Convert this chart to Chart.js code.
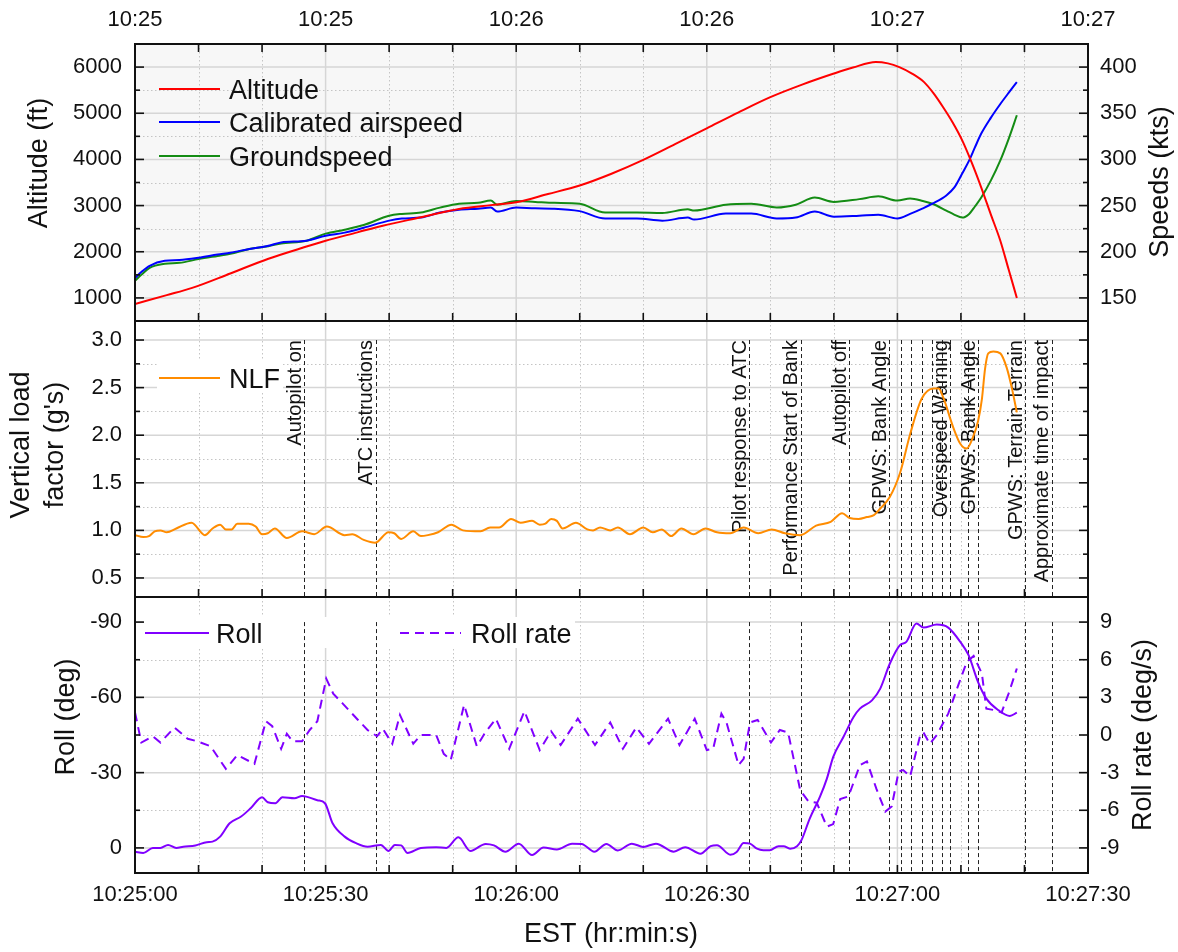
<!DOCTYPE html>
<html>
<head>
<meta charset="utf-8">
<script src="https://cdn.jsdelivr.net/npm/chart.js@4.4.1/dist/chart.umd.min.js"></script>
<style>
  html, body { margin: 0; padding: 0; background: #fff; }
  #wrap { position: relative; width: 1178px; height: 952px; }
  canvas { position: absolute; left: 0; }
</style>
</head>
<body>
<div id="wrap">
  <canvas id="c1" width="1178" height="321" style="top:0px"></canvas>
  <canvas id="c2" width="1178" height="276" style="top:321px"></canvas>
  <canvas id="c3" width="1178" height="355" style="top:597px"></canvas>
</div>
<script>
// time axis = seconds after 10:25:00
const xTicks = [0, 30, 60, 90, 120, 150];
const xMinorTicks = [10, 20, 40, 50, 70, 80, 100, 110, 130, 140];

// top panel: altitude (ft) and speeds (kts)
const altTime = [0, 5, 9, 15, 21, 26, 30, 35, 39, 45, 51, 56, 60, 65, 70, 75, 80, 85, 90, 95,
  100, 105, 110, 113, 116.6, 118.5, 120.3, 122.3, 124.2, 125.7, 127.2, 128.7, 130.2, 131.7, 133.2, 134.7, 136.2, 137.5, 138.8];
const altitudeFt = [870, 1060, 1217, 1530, 1848, 2070, 2239, 2420, 2565, 2746, 2928, 3010, 3072, 3250, 3435, 3690, 3990, 4330, 4674, 5020,
  5348, 5620, 5860, 5990, 6109, 6080, 6000, 5860, 5674, 5430, 5130, 4800, 4413, 3930, 3391, 2810, 2239, 1620, 1000];
const speedTime = [0, 1, 2.3, 4.7, 7, 10, 13, 15, 18, 21, 23, 27, 30, 33, 36, 40, 42, 45, 48, 51,
  54, 56, 57, 60, 63, 66, 70, 74, 79, 83, 87, 88, 93, 97, 101, 104, 107, 110, 114, 117,
  120, 122, 124, 125.5, 127.7, 129, 130.2, 131.3, 132.2, 133.2, 134.7, 136.2, 137.5, 138.8];
const casKts = [171.7, 178, 184.8, 190.2, 191, 193.5, 197, 199, 203, 206.5, 210, 212, 217.4, 220.7, 226, 233.7, 236, 237, 242.4, 245.6,
  246.7, 247.8, 243.5, 247.8, 247, 246.7, 244, 236, 236, 233.7, 237, 234.8, 241.3, 241.3, 236, 237, 243.5, 238, 239, 240,
  236, 241, 247, 252, 261, 270, 284.8, 299, 313, 328, 345, 360, 372, 383.7];
const gsKts = [168.5, 175, 182.6, 187, 188, 192, 195.5, 197.8, 203, 206, 209, 212, 219.6, 223.9, 229, 239, 241, 242.4, 247.8, 252,
  253, 255.4, 251, 255, 254, 253, 252, 242.4, 242.4, 242, 246, 244.6, 251, 252, 248, 251, 258.7, 254, 257, 260,
  255.4, 257.6, 255, 252, 244.6, 240, 237, 241, 249, 258.7, 277, 298.9, 322, 347.8];
const altTicks = [1000, 2000, 3000, 4000, 5000, 6000];
const altMinor = [1500, 2500, 3500, 4500, 5500];
const speedTicks = [150, 200, 250, 300, 350, 400];
const speedMinor = [175, 225, 275, 325, 375];

// middle panel: normal load factor
const nlfTime = [0, 1.3, 2.2, 3.1, 4, 5, 6.5, 8.9, 11, 12.2, 13.4, 14.3, 15.2, 16.1, 17.9, 19, 20, 20.9, 22, 23.9,
  26.3, 28.2, 30.2, 33, 34.2, 36, 37.8, 39.9, 40.8, 41.9, 43.8, 45, 46.1, 47.7, 49.8, 51.6, 54.4, 55.9, 57.3, 59.2,
  60.7, 62.5, 63.7, 64.6, 65.5, 66.4, 67.3, 69.4, 71.2, 72.1, 73.2, 74.8, 76, 77.9, 80, 81.5, 82.9, 84.4, 86, 87.9,
  89.8, 91.6, 93.7, 95.8, 98.1, 100.2, 102.3, 104.7, 107.2, 109.5, 111.3, 112.5, 113.9, 115.2, 116.3, 117.3, 118.8, 120.4, 122, 123.8,
  125.7, 126.5, 127.2, 128.8, 129.9, 130.9, 131.9, 132.7, 133.3, 133.8, 134.3, 135.1, 136.2, 137.2, 138, 138.8];
const nlf = [0.95, 0.93, 0.94, 0.99, 1.0, 0.98, 1.02, 1.08, 0.95, 1.02, 1.06, 1.01, 1.01, 1.07, 1.07, 1.04, 0.96, 0.97, 1.02, 0.92,
  0.99, 0.96, 1.04, 0.95, 0.96, 0.9, 0.87, 0.98, 0.97, 0.91, 0.99, 0.94, 0.95, 0.98, 1.06, 1.0, 0.99, 1.03, 1.03, 1.12,
  1.08, 1.1, 1.06, 1.07, 1.12, 1.1, 1.02, 1.08, 1.01, 1.0, 1.03, 1.0, 1.03, 0.96, 1.03, 0.98, 1.01, 0.94, 1.02, 0.96,
  1.02, 0.98, 0.97, 1.03, 0.97, 1.01, 0.97, 0.95, 1.05, 1.09, 1.18, 1.13, 1.12, 1.14, 1.16, 1.23, 1.35, 1.6, 2.01, 2.38,
  2.49, 2.49, 2.4, 2.08, 1.91, 1.86, 1.98, 2.15, 2.38, 2.7, 2.86, 2.88, 2.86, 2.71, 2.5, 2.24];
const nlfTicks = [0.5, 1.0, 1.5, 2.0, 2.5, 3.0];
const nlfMinor = [0.75, 1.25, 1.75, 2.25, 2.75];

// bottom panel: roll (deg) and roll rate (deg/s)
const rollTime = [0, 1.3, 2.8, 4, 5.2, 6.5, 7.6, 9.5, 11.3, 12.2, 13.4, 14.9, 16.7, 18.2, 20, 20.9, 22.1, 23.2, 25.1, 26.3,
  28.7, 29.9, 31.1, 33, 34.8, 36.6, 38.7, 39.9, 40.9, 41.9, 42.9, 45, 47.4, 49, 50.9, 52.8, 55.2, 56.5, 58.3, 60.4,
  62.5, 64.3, 66.4, 68.8, 70.3, 72.3, 74.2, 76, 78.2, 80, 82, 84.8, 86.6, 89, 90.6, 91.6, 93.7, 94.7, 95.8, 96.8,
  97.9, 98.9, 99.9, 101.3, 102.1, 103.1, 104.2, 104.9, 106.2, 107.8, 108.9, 109.9, 111.5, 113.1, 114.1, 116, 117.3, 118.8, 120.4, 121.4,
  123, 124.1, 126.2, 128, 129.9, 131.2, 132.7, 134, 135.9, 137.7, 138.8];
const rollDeg = [1.5, 2, 0, 0, -1.2, 0, -0.5, -1, -2.3, -2.5, -4.5, -9.8, -12.5, -15.8, -20.2, -18.2, -17.8, -20.2, -19.8, -20.7,
  -19, -17.8, -9.8, -4.5, -1.9, -0.5, -1.2, 1.2, -1.2, -1, 2, 0, -0.3, 0, -4.2, 1.2, -1.6, -1, 1.5, -1.7,
  2.8, -0.2, 0.6, -1.7, -1.6, 1.5, -1.6, 1, -1.7, -0.4, -1.7, 1.5, -0.3, 2.3, -0.7, -1.1, 2.7, 1.6, -2, -1.7,
  0.3, 0.9, 0.9, -0.7, -0.7, 0.3, -0.7, -3.1, -11.7, -20.3, -27.6, -36.3, -44.2, -52.2, -55.5, -58.8, -63.5, -73.4, -80.8, -82.1,
  -89.4, -87.8, -89, -87.8, -82.1, -76.8, -66.1, -59.5, -54.9, -52.6, -53.9];
const rateTime = [0, 1, 2.8, 4, 6.2, 8.3, 9.8, 11.9, 14.3, 16.1, 18.8, 20.6, 21.6, 23, 23.9, 24.8, 26.3, 27.5, 28.7, 30.1,
  31.2, 32.7, 35.1, 36.6, 38.1, 39, 40.5, 41.7, 43.8, 45, 47.4, 48.6, 49.7, 51.8, 53.8, 55, 56.8, 58.9, 61.3, 63.7,
  65.5, 67, 69.7, 72.4, 74.8, 76.8, 78.9, 80.9, 83.9, 85.7, 88.1, 90, 91, 92.3, 93.1, 95, 95.8, 96.8, 98, 100.1,
  101.5, 102.8, 104.7, 106, 107.3, 108.9, 109.9, 111, 112.3, 114.1, 115.2, 116.7, 118.1, 119.1, 120.2, 120.9, 122, 123.6, 124.1, 125.1,
  126.2, 128, 129.6, 130.9, 132, 133.3, 134, 135.1, 136.4, 137.5, 138.8];
const rollRate = [1.8, -0.6, -0.1, -0.6, 0.6, -0.3, -0.5, -0.9, -2.7, -1.6, -2.3, 1.1, 0.7, -1.1, 0.1, -0.5, -0.5, 0.4, 1.1, 4.5,
  3.3, 2.5, 1.2, 0.4, -0.1, 0.5, -0.7, 1.6, -0.7, 0, 0, -1.5, -2.0, 2.4, -0.9, 0.1, 1.3, -1.1, 1.9, -1.2,
  0.3, -0.8, 1.3, -0.8, 1.0, -1.1, 0.6, -0.7, 1.3, -0.8, 1.3, -1.2, -1.1, 1.7, 1.0, -2.4, -1.9, 1.0, 1.2, -0.6,
  0.4, 0.2, -4.4, -5.3, -5.4, -7.3, -7.1, -5.1, -4.9, -2.4, -2.1, -4.3, -6.1, -5.7, -2.9, -2.8, -3.3, 0, 0.2, -0.7,
  0, 1.7, 4.0, 5.8, 6.3, 4.9, 2.1, 2.0, 1.8, 3.3, 5.3];
const rollTicks = [-90, -60, -30, 0];
const rollMinor = [-75, -45, -15];
const rateTicks = [-9, -6, -3, 0, 3, 6, 9];

// event markers
const eventTime = [26.6, 37.9, 96.7, 104.8, 112.4, 118.7, 120.5, 122.1, 123.8, 125.4, 127.0, 128.3, 131.1, 132.7, 140.1, 144.3];
const eventLabel = ['Autopilot on', 'ATC instructions', 'Pilot response to ATC', 'Performance Start of Bank', 'Autopilot off',
  'GPWS: Bank Angle', '', '', '', '', '', 'Overspeed Warning', '', 'GPWS: Bank Angle', 'GPWS: Terrain Terrain', 'Approximate time of impact'];

const FONT = '"Liberation Sans", Arial, Helvetica, sans-serif';
const INK = '#111';
Chart.defaults.font.family = FONT;
Chart.defaults.color = INK;

function pts(xs, ys) { return xs.map((x, i) => ({ x: x, y: ys[i] })); }
function seg(ctx, x0, y0, x1, y1) { ctx.beginPath(); ctx.moveTo(x0, y0); ctx.lineTo(x1, y1); ctx.stroke(); }
function setTicks(vals) { return s => { s.ticks = vals.map(v => ({ value: v })); }; }
function fixWidth(w) { return s => { s.width = w; s.paddingTop = 0; s.paddingBottom = 0; }; }
function fixHeight(h) { return s => { s.height = h; s.paddingLeft = 0; s.paddingRight = 0; }; }
function clock(v) {
  const s = 25 * 60 + v;
  return '10:' + Math.floor(s / 60) + ':' + String(s % 60).padStart(2, '0');
}

function yAxis(pos, min, max, ticks, width, fmt, reverse) {
  return {
    type: 'linear', position: pos, min: min, max: max, reverse: !!reverse,
    grid: { display: false, drawTicks: false }, border: { display: false },
    afterBuildTicks: setTicks(ticks), afterFit: fixWidth(width),
    ticks: { padding: pos === 'left' ? 13 : 12, font: { size: 22 }, callback: fmt }
  };
}
function xAxis(pos, height, pad, fmt) {
  if (!pos) return { type: 'linear', min: 0, max: 150, display: false };
  return {
    type: 'linear', position: pos, min: 0, max: 150,
    grid: { display: false, drawTicks: false }, border: { display: false },
    afterBuildTicks: setTicks(xTicks), afterFit: fixHeight(height),
    ticks: { padding: pad, maxRotation: 0, autoSkip: false, font: { size: 22 }, callback: fmt }
  };
}
function line(label, data, color, axis, extra) {
  return Object.assign({ label: label, data: data, borderColor: color, yAxisID: axis, borderWidth: 2,
    pointRadius: 0, fill: false, cubicInterpolationMode: 'monotone' }, extra || {});
}

// grid, frame, inward ticks, event markers, legend and titles
function panelPlugin(o) {
  return {
    id: 'panel',
    beforeDatasetsDraw(chart) {
      const { ctx, chartArea: a } = chart;
      const xs = chart.scales.x, ys = chart.scales.y;
      ctx.save();
      if (o.bg) { ctx.fillStyle = o.bg; ctx.fillRect(a.left, a.top, a.width, a.height); }
      ctx.beginPath(); ctx.rect(a.left, a.top, a.width, a.height); ctx.clip();
      ctx.lineWidth = 1; ctx.strokeStyle = '#c4c4c4'; ctx.setLineDash([1.5, 2.5]);
      xMinorTicks.forEach(v => { const p = Math.round(xs.getPixelForValue(v)) + 0.5; seg(ctx, p, a.top, p, a.bottom); });
      o.yMinor.forEach(v => { const p = Math.round(ys.getPixelForValue(v)) + 0.5; seg(ctx, a.left, p, a.right, p); });
      ctx.setLineDash([]); ctx.strokeStyle = '#d6d6d6'; ctx.lineWidth = 1.5;
      xTicks.forEach(v => { const p = xs.getPixelForValue(v); seg(ctx, p, a.top, p, a.bottom); });
      o.yMajor.forEach(v => { const p = ys.getPixelForValue(v); seg(ctx, a.left, p, a.right, p); });
      if (o.legendBox) {
        const b = o.legendBox;
        ctx.fillStyle = '#fff'; ctx.fillRect(b[0], b[1], b[2], b[3]);
      }
      if (o.eventsFrom !== undefined) {
        const top = ys.getPixelForValue(o.eventsFrom);
        ctx.strokeStyle = '#222'; ctx.lineWidth = 1; ctx.setLineDash([4, 3]);
        eventTime.forEach(t => { const p = Math.round(xs.getPixelForValue(t)) + 0.5; seg(ctx, p, top, p, a.bottom); });
        ctx.setLineDash([]);
        if (o.eventLabels) {
          ctx.fillStyle = INK; ctx.font = '20px ' + FONT; ctx.textAlign = 'right'; ctx.textBaseline = 'bottom';
          eventTime.forEach((t, i) => {
            if (!eventLabel[i]) return;
            ctx.save();
            ctx.translate(xs.getPixelForValue(t) + 1, top);
            ctx.rotate(-Math.PI / 2);
            ctx.fillText(eventLabel[i], 0, 0);
            ctx.restore();
          });
        }
      }
      ctx.restore();
    },
    afterDatasetsDraw(chart) {
      const { ctx, chartArea: a } = chart;
      const xs = chart.scales.x, ys = chart.scales.y;
      ctx.save();
      (o.legend || []).forEach(e => {
        ctx.strokeStyle = e.color; ctx.lineWidth = 2; ctx.setLineDash(e.dash || []);
        seg(ctx, e.x0, e.y, e.x1, e.y);
        ctx.setLineDash([]);
        ctx.fillStyle = INK; ctx.font = '27px ' + FONT; ctx.textAlign = 'left'; ctx.textBaseline = 'alphabetic';
        ctx.fillText(e.text, e.tx, e.y + 10);
      });
      ctx.strokeStyle = INK; ctx.lineWidth = 2;
      ctx.strokeRect(a.left, a.top, a.width, a.height);
      ctx.lineWidth = 1.6;
      xTicks.concat(xMinorTicks).forEach(v => {
        const p = xs.getPixelForValue(v);
        seg(ctx, p, a.bottom, p, a.bottom - 8);
        if (o.topTicks) seg(ctx, p, a.top, p, a.top + 8);
      });
      o.yMajor.forEach(v => { const p = ys.getPixelForValue(v); seg(ctx, a.left, p, a.left + 9, p); });
      o.yMinor.forEach(v => { const p = ys.getPixelForValue(v); seg(ctx, a.left, p, a.left + 5, p); });
      const rs = o.right ? chart.scales.y1 : ys;
      const rMaj = o.right ? o.right.major : o.yMajor;
      const rMin = o.right ? o.right.minor : o.yMinor;
      rMaj.forEach(v => { const p = rs.getPixelForValue(v); seg(ctx, a.right, p, a.right - 9, p); });
      rMin.forEach(v => { const p = rs.getPixelForValue(v); seg(ctx, a.right, p, a.right - 5, p); });
      ctx.fillStyle = INK; ctx.textAlign = 'center'; ctx.textBaseline = 'middle'; ctx.font = '27px ' + FONT;
      (o.titles || []).forEach(t => {
        ctx.save();
        ctx.translate(t.x, t.y);
        if (t.rot) ctx.rotate(-Math.PI / 2);
        ctx.fillText(t.text, 0, 0);
        ctx.restore();
      });
      ctx.restore();
    }
  };
}

const common = {
  responsive: false, animation: false, events: [],
  plugins: { legend: { display: false }, tooltip: { enabled: false } }
};

// top panel
new Chart(document.getElementById('c1'), {
  type: 'line',
  data: { datasets: [
    line('Altitude', pts(altTime, altitudeFt), '#ff0000', 'y'),
    line('Calibrated airspeed', pts(speedTime, casKts), '#0000ff', 'y1'),
    line('Groundspeed', pts(speedTime, gsKts), '#148c14', 'y1')
  ] },
  options: Object.assign({}, common, {
    layout: { padding: 0 },
    scales: {
      x: xAxis('top', 44, 11, v => '10:' + (25 + Math.floor(v / 60))),
      y: yAxis('left', 500, 6500, altTicks, 135, v => String(v)),
      y1: yAxis('right', 125, 425, speedTicks, 90, v => String(v))
    }
  }),
  plugins: [panelPlugin({
    bg: '#f7f7f7', yMajor: altTicks, yMinor: altMinor, topTicks: true,
    right: { major: speedTicks, minor: speedMinor },
    legend: [
      { text: 'Altitude', color: '#ff0000', x0: 159, x1: 220, tx: 229, y: 89 },
      { text: 'Calibrated airspeed', color: '#0000ff', x0: 159, x1: 220, tx: 229, y: 122 },
      { text: 'Groundspeed', color: '#148c14', x0: 159, x1: 220, tx: 229, y: 156 }
    ],
    titles: [
      { text: 'Altitude (ft)', x: 40, y: 163, rot: true },
      { text: 'Speeds (kts)', x: 1161, y: 182, rot: true }
    ]
  })]
});

// middle panel
new Chart(document.getElementById('c2'), {
  type: 'line',
  data: { datasets: [line('NLF', pts(nlfTime, nlf), '#ff8c00', 'y')] },
  options: Object.assign({}, common, {
    layout: { padding: { right: 90 } },
    scales: {
      x: xAxis(null),
      y: yAxis('left', 0.3, 3.2, nlfTicks, 135, v => v.toFixed(1))
    }
  }),
  plugins: [panelPlugin({
    yMajor: nlfTicks, yMinor: nlfMinor, eventsFrom: 3.0, eventLabels: true,
    legendBox: [157, 40, 126, 32],
    legend: [{ text: 'NLF', color: '#ff8c00', x0: 159, x1: 220, tx: 229, y: 57 }],
    titles: [
      { text: 'Vertical load', x: 22, y: 124, rot: true },
      { text: "factor (g's)", x: 56, y: 124, rot: true }
    ]
  })]
});

// bottom panel
new Chart(document.getElementById('c3'), {
  type: 'line',
  data: { datasets: [
    line('Roll', pts(rollTime, rollDeg), '#8000ff', 'y'),
    line('Roll rate', pts(rateTime, rollRate), '#8000ff', 'y1', { borderDash: [9, 6], cubicInterpolationMode: 'default', tension: 0 })
  ] },
  options: Object.assign({}, common, {
    layout: { padding: 0 },
    scales: {
      x: xAxis('bottom', 79, 9, clock),
      y: yAxis('left', -100, 10, rollTicks, 135, v => String(v), true),
      y1: yAxis('right', -11, 11, rateTicks, 90, v => String(v))
    }
  }),
  plugins: [panelPlugin({
    yMajor: rollTicks, yMinor: rollMinor, eventsFrom: -90,
    right: { major: rateTicks, minor: [] },
    legendBox: [143, 20, 432, 31],
    legend: [
      { text: 'Roll', color: '#8000ff', x0: 145, x1: 209, tx: 216, y: 36 },
      { text: 'Roll rate', color: '#8000ff', dash: [9, 6], x0: 400, x1: 461, tx: 471, y: 36 }
    ],
    titles: [
      { text: 'Roll (deg)', x: 67, y: 120, rot: true },
      { text: 'Roll rate (deg/s)', x: 1144, y: 138, rot: true },
      { text: 'EST (hr:min:s)', x: 611, y: 338 }
    ]
  })]
});
</script>
</body>
</html>
